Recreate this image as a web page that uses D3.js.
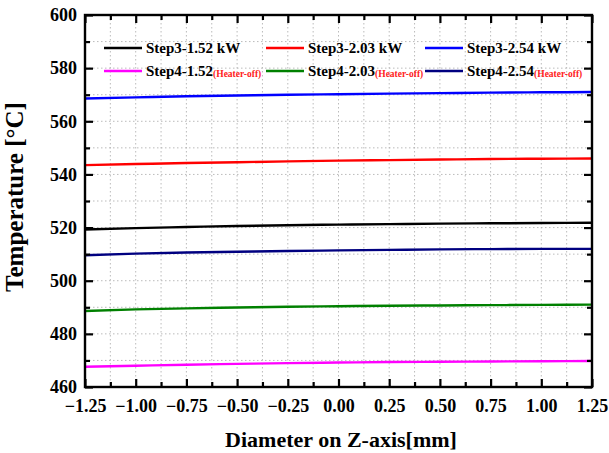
<!DOCTYPE html>
<html><head><meta charset="utf-8">
<script src="https://cdn.jsdelivr.net/npm/d3@7"></script>
<style>body{margin:0;background:#fff}svg{display:block}</style>
</head><body><svg id="c" width="609" height="453"></svg>
<script>
const xValues = [-1.25,-1.0,-0.75,-0.5,-0.25,0,0.25,0.5,0.75,1.0,1.25];
const seriesNames = ["Step3-1.52 kW","Step3-2.03 kW","Step3-2.54 kW","Step4-1.52","Step4-2.03","Step4-2.54"];
const seriesNotes = ["","","","(Heater-off)","(Heater-off)","(Heater-off)"];
const seriesColors = ["#000000","#ff0000","#0000ff","#ff00ff","#008000","#000080"];
const step3_152 = [519.3,519.8,520.2,520.6,520.9,521.1,521.3,521.5,521.6,521.7,521.8];
const step3_203 = [543.5,543.9,544.3,544.6,544.9,545.2,545.4,545.6,545.8,545.9,546.0];
const step3_254 = [568.6,569.0,569.4,569.7,570.0,570.2,570.4,570.6,570.8,570.9,571.0];
const step4_152 = [467.6,468.0,468.4,468.7,469.0,469.2,469.4,469.5,469.6,469.7,469.8];
const step4_203 = [488.6,489.2,489.6,489.9,490.2,490.4,490.6,490.7,490.8,490.9,491.0];
const step4_254 = [509.6,510.2,510.6,510.9,511.2,511.4,511.6,511.8,511.9,512.0,512.0];
const seriesValues = [step3_152,step3_203,step3_254,step4_152,step4_203,step4_254];
const xTicks = [-1.25,-1.0,-0.75,-0.5,-0.25,0,0.25,0.5,0.75,1.0,1.25];
const yTicks = [460,480,500,520,540,560,580,600];

const FONT = 'Liberation Serif';
const svg = d3.select("#c");
const L=85,R=592,T=15,B=387;
const x = d3.scaleLinear().domain([-1.25,1.25]).range([L,R]);
const y = d3.scaleLinear().domain([460,600]).range([B,T]);
const xMinor = d3.range(-1.125,1.25,0.25);
const yMinor = d3.range(470,600,20);

// grid
const g = svg.append("g");
[...xTicks.slice(1,-1),...xMinor].forEach(v=>{
  g.append("line").attr("x1",x(v)).attr("x2",x(v)).attr("y1",T).attr("y2",B)
   .attr("stroke","#aaa").attr("stroke-width",0.8).attr("stroke-dasharray","1.5,2.5");
});
[...yTicks.slice(1,-1),...yMinor].forEach(v=>{
  g.append("line").attr("x1",L).attr("x2",R).attr("y1",y(v)).attr("y2",y(v))
   .attr("stroke","#aaa").attr("stroke-width",0.8).attr("stroke-dasharray","1.5,2.5");
});

// lines
const line = d3.line().x((d,i)=>x(xValues[i])).y(d=>y(d)).curve(d3.curveMonotoneX);
seriesValues.forEach((vals,i)=>{
  svg.append("path").attr("d",line(vals)).attr("fill","none")
    .attr("stroke",seriesColors[i]).attr("stroke-width",2.4);
});

// axes
const fmt = d3.format(".2f");
const axB = svg.append("g").attr("transform",`translate(0,${B})`)
  .call(d3.axisBottom(x).tickValues(xTicks).tickFormat(fmt).tickSizeInner(-8).tickSizeOuter(0).tickPadding(12));
const axT = svg.append("g").attr("transform",`translate(0,${T})`)
  .call(d3.axisTop(x).tickValues(xTicks).tickFormat("").tickSizeInner(-8).tickSizeOuter(0));
const axL = svg.append("g").attr("transform",`translate(${L},0)`)
  .call(d3.axisLeft(y).tickValues(yTicks).tickSizeInner(-8).tickSizeOuter(0).tickPadding(8));
const axR = svg.append("g").attr("transform",`translate(${R},0)`)
  .call(d3.axisRight(y).tickValues(yTicks).tickFormat("").tickSizeInner(-8).tickSizeOuter(0));
// minor ticks
const mB = svg.append("g").attr("transform",`translate(0,${B})`).call(d3.axisBottom(x).tickValues(xMinor).tickFormat("").tickSizeInner(-5).tickSizeOuter(0));
const mT = svg.append("g").attr("transform",`translate(0,${T})`).call(d3.axisTop(x).tickValues(xMinor).tickFormat("").tickSizeInner(-5).tickSizeOuter(0));
const mL = svg.append("g").attr("transform",`translate(${L},0)`).call(d3.axisLeft(y).tickValues(yMinor).tickFormat("").tickSizeInner(-5).tickSizeOuter(0));
const mR = svg.append("g").attr("transform",`translate(${R},0)`).call(d3.axisRight(y).tickValues(yMinor).tickFormat("").tickSizeInner(-5).tickSizeOuter(0));
[axB,axT,axL,axR,mB,mT,mL,mR].forEach(a=>{
  a.attr("font-family",FONT);
  a.selectAll("path").remove();
  a.selectAll("line").attr("stroke","#000").attr("stroke-width",2.2);
  a.selectAll("text").attr("font-size",18).attr("fill","#000")
   .attr("font-family",FONT).attr("font-weight","bold");
});
svg.append("rect").attr("x",L).attr("y",T).attr("width",R-L).attr("height",B-T)
  .attr("fill","none").attr("stroke","#000").attr("stroke-width",2.4);

// titles
svg.append("text").attr("x",341).attr("y",447).attr("text-anchor","middle")
  .attr("font-family",FONT).attr("font-weight","bold")
  .attr("font-size",22).text("Diameter on Z-axis[mm]");
svg.append("text").attr("transform",`translate(23,197) rotate(-90)`).attr("text-anchor","middle")
  .attr("font-family",FONT).attr("font-weight","bold")
  .attr("font-size",25).text("Temperature [°C]");

// legend
const colX = [104,266,425], rowY = [48,71];
seriesNames.forEach((n,i)=>{
  const cx = colX[i%3], cy = rowY[Math.floor(i/3)];
  svg.append("line").attr("x1",cx).attr("x2",cx+38).attr("y1",cy).attr("y2",cy)
    .attr("stroke",seriesColors[i]).attr("stroke-width",2.4);
  const t = svg.append("text").attr("x",cx+42).attr("y",cy+5).attr("font-size",15)
    .attr("font-family",FONT).attr("font-weight","bold").attr("fill","#000");
  t.append("tspan").text(n);
  if(seriesNotes[i]) t.append("tspan").attr("font-size",9.5).attr("fill","#ff2020").attr("dy",1).text(seriesNotes[i]);
});
</script></body></html>
